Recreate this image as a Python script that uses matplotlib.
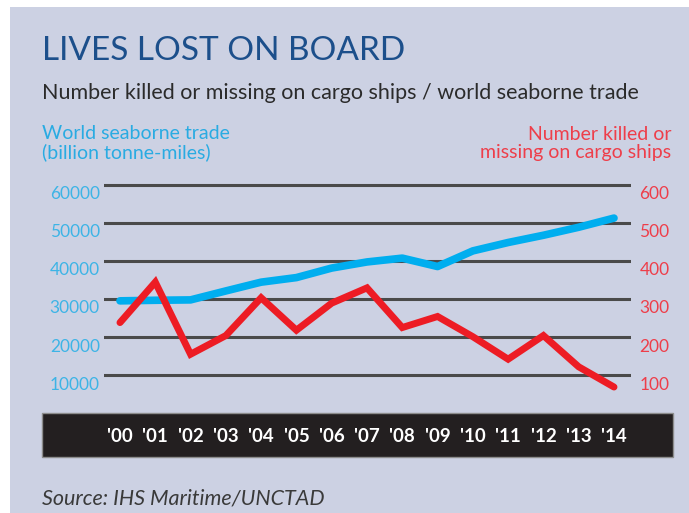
import matplotlib
matplotlib.use("Agg")
import matplotlib.pyplot as plt
from matplotlib.patches import Rectangle
from matplotlib.transforms import ScaledTranslation

# data
years = ["'00", "'01", "'02", "'03", "'04", "'05", "'06", "'07",
         "'08", "'09", "'10", "'11", "'12", "'13", "'14"]
trade = [29500, 29650, 29750, 32100, 34400, 35600, 38100, 39700,
         40700, 38500, 42600, 44800, 46700, 48800, 51200]
killed = [238, 344, 155, 204, 303, 218, 289, 329,
          225, 254, 201, 142, 204, 122, 69]
trade_ticks = [10000, 20000, 30000, 40000, 50000, 60000]
killed_ticks = [100, 200, 300, 400, 500, 600]

W, H = 689, 513
BG = "#CCD1E3"
BLUE = "#00AEEF"
RED = "#ED1C24"
plt.rcParams["font.family"] = ["Lato", "DejaVu Sans"]


def fx(x):
    return x / W


def fy(y):
    return 1 - y / H


fig = plt.figure(figsize=(W / 100, H / 100), dpi=100, facecolor="white")

# panel background and black year band
fig.patches.append(Rectangle((fx(10), 0), 1 - fx(10), fy(7), transform=fig.transFigure,
                             facecolor=BG, edgecolor="none", zorder=-3))
fig.patches.append(Rectangle((fx(42), fy(457)), fx(673) - fx(42), fy(413) - fy(457),
                             transform=fig.transFigure, facecolor="#231F20",
                             edgecolor="#8C8C8C", lw=1, zorder=-2))

# titles
fig.text(fx(42), fy(60), "LIVES LOST ON BOARD", fontsize=24, color="#1C4F8B",
         va="baseline", ha="left")
fig.text(fx(42), fy(99), "Number killed or missing on cargo ships / world seaborne trade",
         fontsize=15.5, color="#2B2B2B", va="baseline", ha="left")
fig.text(fx(42), fy(158), "World seaborne trade\n(billion tonne-miles)", fontsize=14,
         color="#29ABE2", va="baseline", ha="left", linespacing=1.05)
fig.text(fx(671), fy(158), "Number killed or\nmissing on cargo ships", fontsize=14,
         color="#EE3E4A", va="baseline", ha="right", linespacing=1.05,
         multialignment="right")
fig.text(fx(42), fy(504), "Source: IHS Maritime/UNCTAD", fontsize=15.5, style="italic",
         color="#3A3A3A", va="baseline", ha="left")

# main axes
ax = fig.add_axes([fx(104), fy(400), fx(631) - fx(104), fy(175) - fy(400)])
ax.patch.set_alpha(0)
x = list(range(len(years)))
ax.plot(x, trade, color=BLUE, lw=5.5, solid_capstyle="round", solid_joinstyle="round", zorder=3)
ax.set_xlim(-0.453, 14.482)
ax.set_ylim(3500, 62500)
ax.set_yticks(trade_ticks)
ax.set_yticklabels([str(v) for v in trade_ticks])
ax.grid(axis="y", color="#4A4A4A", lw=2.2)
ax.set_axisbelow(True)
ax.tick_params(axis="y", length=0, pad=3, labelsize=12.5, labelcolor="#3DB4E6")
ax.set_xticks(x)
ax.set_xticklabels(years)
ax.tick_params(axis="x", length=0, pad=20, labelsize=13.5, labelcolor="white")
for lbl in ax.get_xticklabels():
    lbl.set_fontweight("bold")
for s in ax.spines.values():
    s.set_visible(False)

ax2 = ax.twinx()
ax2.plot(x, killed, color=RED, lw=5, solid_capstyle="round", solid_joinstyle="miter", zorder=3)
ax2.set_ylim(35, 625)
ax2.set_yticks(killed_ticks)
ax2.set_yticklabels([str(v) for v in killed_ticks])
ax2.tick_params(axis="y", length=0, pad=6, labelsize=12.5, labelcolor="#EE3E4A")
for s in ax2.spines.values():
    s.set_visible(False)

# tick labels sit just under their gridlines
shift = ScaledTranslation(0, -0.08, fig.dpi_scale_trans)
for lbl in ax.get_yticklabels() + ax2.get_yticklabels():
    lbl.set_transform(lbl.get_transform() + shift)

fig.savefig("out.png", dpi=100, facecolor="white")
